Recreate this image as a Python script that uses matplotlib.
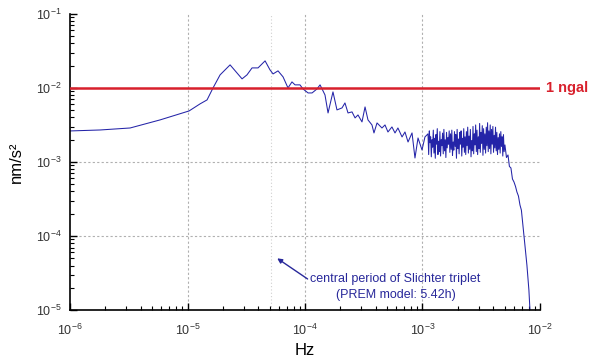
import numpy as np
import matplotlib.pyplot as plt
from matplotlib.transforms import blended_transform_factory

plt.rcParams["font.family"] = ["Liberation Sans", "DejaVu Sans"]
plt.rcParams["mathtext.default"] = "regular"

# ------------------------------------------------------------------
# DATA (stored as log10 values)
# ------------------------------------------------------------------
# smooth / low-frequency part of the spectrum
log_hz_low = [
    -6.000, -5.745, -5.489, -5.234, -4.987, -4.894, -4.834, -4.783, -4.723,
    -4.638, -4.579, -4.536, -4.494, -4.451, -4.400, -4.340, -4.298, -4.272,
    -4.230, -4.187, -4.145, -4.111, -4.085, -4.043, -4.017, -3.974, -3.940,
    -3.898, -3.872, -3.830, -3.804, -3.762, -3.728, -3.685, -3.660, -3.634,
    -3.600, -3.574, -3.549, -3.515, -3.489, -3.464, -3.430, -3.413, -3.387,
    -3.345, -3.319, -3.294, -3.260, -3.234, -3.209, -3.174, -3.149, -3.123,
    -3.089, -3.064, -3.038, -3.004, -2.979,
]
log_amp_low = [
    -2.581, -2.568, -2.541, -2.432, -2.311, -2.216, -2.162, -2.000, -1.824,
    -1.689, -1.797, -1.878, -1.824, -1.730, -1.730, -1.635, -1.757, -1.811,
    -1.770, -1.851, -2.000, -1.919, -1.959, -1.959, -2.014, -2.068, -2.068,
    -2.014, -1.959, -2.095, -2.338, -2.054, -2.297, -2.270, -2.203, -2.338,
    -2.324, -2.405, -2.365, -2.459, -2.257, -2.432, -2.500, -2.608, -2.473,
    -2.541, -2.500, -2.595, -2.527, -2.608, -2.541, -2.662, -2.595, -2.730,
    -2.608, -2.946, -2.676, -2.838, -2.662,
]

# noisy plateau between ~1 mHz and ~5 mHz (frequency grid of the spectrum)
plateau_start, plateau_end = -2.953, -2.305
log_amp_plateau = [
    -2.62, -2.90, -2.58, -2.74, -2.66, -2.93, -2.70, -2.80, -2.57, -2.88, -2.68, -2.95,
    -2.63, -2.76, -2.55, -2.90, -2.72, -2.86, -2.59, -2.92, -2.70, -2.78, -2.61, -2.89,
    -2.56, -2.85, -2.70, -2.94, -2.60, -2.81, -2.67, -2.76, -2.58, -2.87, -2.62, -2.83,
    -2.57, -2.91, -2.73, -2.84, -2.59, -2.79, -2.63, -2.95, -2.56, -2.82, -2.69, -2.89,
    -2.60, -2.76, -2.58, -2.92, -2.68, -2.80, -2.55, -2.87, -2.66, -2.90, -2.59, -2.78,
    -2.53, -2.88, -2.65, -2.83, -2.56, -2.93, -2.71, -2.85, -2.52, -2.89, -2.62, -2.77,
    -2.50, -2.86, -2.57, -2.90, -2.66, -2.82, -2.48, -2.87, -2.60, -2.75, -2.51, -2.91,
    -2.55, -2.83, -2.62, -2.88, -2.53, -2.78, -2.47, -2.86, -2.58, -2.82, -2.50, -2.89,
    -2.56, -2.76, -2.52, -2.87, -2.64, -2.81, -2.53, -2.85, -2.60, -2.90, -2.67, -2.83,
    -2.62, -2.88, -2.59, -2.79, -2.66, -2.92, -2.63, -2.86,
]

# anti-alias filter roll-off
log_hz_drop = [-2.298, -2.285, -2.272, -2.260, -2.247, -2.234, -2.221, -2.208,
               -2.196, -2.183, -2.170, -2.158, -2.145, -2.128, -2.111, -2.094,
               -2.085]
log_amp_drop = [-2.770, -2.940, -2.905, -3.060, -3.081, -3.230, -3.270, -3.330,
                -3.405, -3.460, -3.581, -3.650, -3.851, -4.122, -4.392, -4.730,
                -5.000]

ONE_NGAL = 1e-2          # nm/s^2
SLICHTER_PERIOD_H = 5.42  # PREM model

# ------------------------------------------------------------------
# BUILD CURVE
# ------------------------------------------------------------------
log_hz_plateau = np.linspace(plateau_start, plateau_end, len(log_amp_plateau))
freq = 10 ** np.concatenate([log_hz_low, log_hz_plateau, log_hz_drop])
amp = 10 ** np.concatenate([log_amp_low, log_amp_plateau, log_amp_drop])

# ------------------------------------------------------------------
# PLOT
# ------------------------------------------------------------------
fig = plt.figure(figsize=(5.94, 3.64), dpi=100)
ax = fig.add_axes([0.118, 0.148, 0.791, 0.814])

ax.set_xscale("log")
ax.set_yscale("log")
ax.set_xlim(1e-6, 1e-2)
ax.set_ylim(1e-5, 1e-1)

grid_kw = dict(color="#b0b0b0", lw=0.8, ls=(0, (2, 2)), zorder=0)
for d in [1e-5, 1e-4, 1e-3]:
    ax.axvline(d, **grid_kw)
for d in [1e-4, 1e-3]:
    ax.axhline(d, **grid_kw)

f_slichter = 1.0 / (SLICHTER_PERIOD_H * 3600.0)
ax.axvline(f_slichter, color="#d0d0d0", lw=0.8, ls=(0, (1, 2)), zorder=0)

ax.plot(freq, amp, color="#2424a8", lw=0.75, zorder=2)

ax.axhline(ONE_NGAL, color="#d8202c", lw=1.8, zorder=3)
trans = blended_transform_factory(ax.transAxes, ax.transData)
ax.text(1.013, ONE_NGAL, "1 ngal", transform=trans, color="#d8202c",
        fontsize=10.5, fontweight="bold", va="center", ha="left")

ax.annotate("central period of Slichter triplet\n(PREM model: 5.42h)",
            xy=(5.8e-5, 5.0e-5), xytext=(5.9e-4, 2.05e-5),
            ha="center", va="center", fontsize=9, color="#28289a",
            linespacing=1.45,
            arrowprops=dict(arrowstyle="-|>", color="#28289a", lw=1.0,
                            mutation_scale=7,
                            shrinkA=0, shrinkB=0,
                            relpos=(0.0, 0.72)))

for s in ["top", "right"]:
    ax.spines[s].set_visible(False)
for s in ["left", "bottom"]:
    ax.spines[s].set_linewidth(1.2)

ax.tick_params(which="major", direction="in", length=5, width=1,
               labelsize=9, labelcolor="#333333")
ax.tick_params(which="minor", direction="in", length=3, width=0.8)
ax.tick_params(axis="x", pad=9)
ax.tick_params(axis="y", pad=6)

ax.set_xlabel("Hz", fontsize=12)
ax.set_ylabel("nm/s²", fontsize=12, labelpad=9)

fig.savefig("out.png", dpi=100)
